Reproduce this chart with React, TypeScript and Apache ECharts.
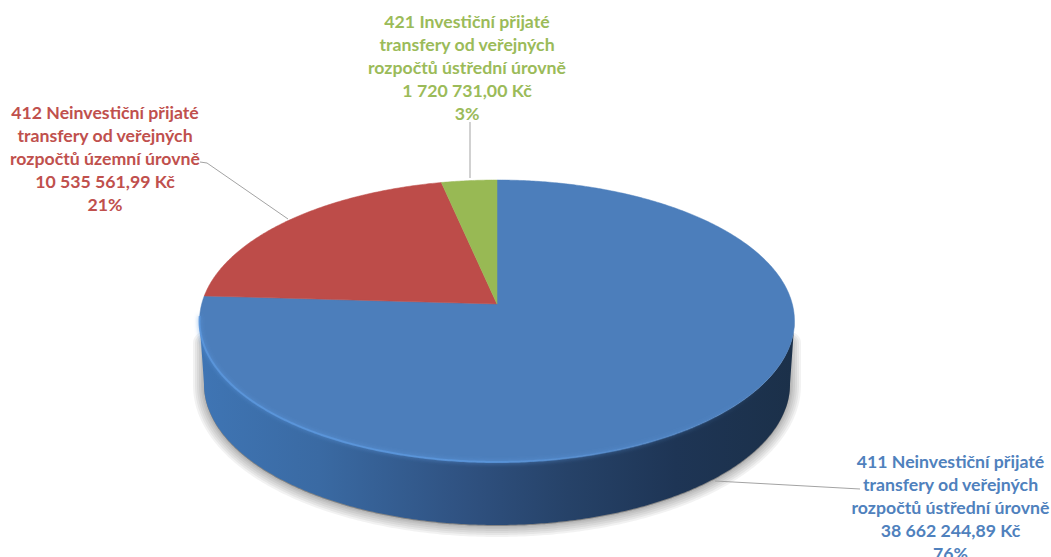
import React, { useEffect, useRef } from "react";
import * as echarts from "echarts";

const categories = [
  "411 Neinvestiční přijaté\ntransfery od veřejných\nrozpočtů ústřední úrovně",
  "412 Neinvestiční přijaté\ntransfery od veřejných\nrozpočtů územní úrovně",
  "421 Investiční přijaté\ntransfery od veřejných\nrozpočtů ústřední úrovně",
];
const amounts = [38662244.89, 10535561.99, 1720731.0];
const amountLabels = ["38 662 244,89 Kč", "10 535 561,99 Kč", "1 720 731,00 Kč"];
const faceColors = ["#4c7ebb", "#bd4c49", "#98b954"];
const textColors = ["#4f81bd", "#c0504d", "#9bbb59"];
const labelPositions = [
  [950.5, 507],
  [105, 158],
  [467, 67],
];
const leaderLines = [
  [[715, 481], [860, 489]],
  [[288, 219], [207, 163], [200, 162]],
  [[470, 178], [470, 122]],
];
const shadowWidths = [22, 18, 14, 10, 6, 3];

// Perspective view of the disc
const CX = 497;
const CY = 304;
const K = 0.1206;
const A = 138.95;
const B = 295.3;
const DEPTH = 63;
const FRONT_START = (Math.acos(-K) * 180) / Math.PI;
const FRONT_END = 360 - FRONT_START;

function project(deg: number, drop = 0, scale = 1): number[] {
  const t = (deg * Math.PI) / 180;
  const X = Math.sin(t);
  const Y = Math.cos(t);
  const w = 1 + K * Y;
  return [CX + (scale * B * X) / w, CY - (A * Y) / w + drop];
}

function arc(from: number, to: number, drop = 0, scale = 1): number[][] {
  const pts: number[][] = [];
  const n = Math.max(2, Math.ceil(Math.abs(to - from) * 2));
  for (let i = 0; i <= n; i++) pts.push(project(from + ((to - from) * i) / n, drop, scale));
  return pts;
}

const total = amounts.reduce((a, b) => a + b, 0);

function renderItem(params: any, api: any) {
  const i = params.dataIndex;
  let before = 0;
  for (let j = 0; j < i; j++) before += amounts[j];
  const start = (before / total) * 360;
  const end = ((before + (api.value(0) as number)) / total) * 360;
  const children: any[] = [];

  const fs = Math.max(start, FRONT_START);
  const fe = Math.min(end, FRONT_END);
  if (fe > fs) {
    const sidePts = [...arc(fs, fe), ...arc(fe, fs, DEPTH, 0.985)];
    const shadowPts = [...arc(fs, fe, 22, 0.985), ...arc(fe, fs, DEPTH + 1, 0.985)];
    shadowWidths.forEach((w) => {
      children.push({
        type: "polygon",
        shape: { points: shadowPts },
        style: { fill: "rgba(0,0,0,0.05)", stroke: "rgba(0,0,0,0.05)", lineWidth: w, lineJoin: "round" },
      });
    });
    children.push({
      type: "polygon",
      shape: { points: sidePts },
      style: {
        fill: new echarts.graphic.LinearGradient(0, 0, 1, 0, [
          { offset: 0, color: "#3f75b4" },
          { offset: 0.2, color: "#3a6aa3" },
          { offset: 0.45, color: "#2f5180" },
          { offset: 0.62, color: "#264268" },
          { offset: 0.8, color: "#1e3555" },
          { offset: 1, color: "#1b3049" },
        ]),
      },
    });
  }
  children.push({
    type: "polygon",
    shape: { points: [[CX, CY], ...arc(start, end)] },
    style: { fill: faceColors[i], stroke: faceColors[i], lineWidth: 0.5 },
  });
  if (fe > fs) {
    children.push({
      type: "polyline",
      shape: { points: arc(fe + 2, fs + 22, 0) },
      style: {
        fill: null,
        lineWidth: 2,
        opacity: 0.85,
        shadowBlur: 4,
        shadowColor: "#5b97dd",
        stroke: new echarts.graphic.LinearGradient(0, 0, 1, 0, [
          { offset: 0, color: "#5a96dc" },
          { offset: 0.5, color: "#5a96dc" },
          { offset: 0.85, color: "rgba(86,140,205,0.5)" },
          { offset: 1, color: "rgba(76,126,187,0)" },
        ]),
      },
    });
  }
  children.push({
    type: "polyline",
    shape: { points: leaderLines[i] },
    style: { fill: null, stroke: "#a3a3a3", lineWidth: 1 },
  });
  const pct = Math.round((api.value(0) / total) * 100);
  children.push({
    type: "text",
    x: labelPositions[i][0],
    y: labelPositions[i][1],
    style: {
      text: `${categories[i]}\n${amountLabels[i]}\n${pct}%`,
      fill: textColors[i],
      font: 'bold 17.7px Lato, "Noto Sans", sans-serif',
      lineHeight: 23,
      align: "center",
      verticalAlign: "middle",
    },
  });
  return { type: "group", children };
}

export default function App() {
  const ref = useRef<HTMLDivElement>(null);
  useEffect(() => {
    const chart = echarts.init(ref.current!, null, { renderer: "svg" });
    chart.setOption({
      animation: false,
      backgroundColor: "#ffffff",
      series: [
        {
          type: "custom",
          coordinateSystem: "none",
          renderItem,
          silent: true,
          data: amounts.map((v) => [v]),
        },
      ],
    });
    return () => chart.dispose();
  }, []);
  return (
    <div
      ref={ref}
      style={{ position: "fixed", left: 0, top: 0, width: 1051, height: 557 }}
    />
  );
}
